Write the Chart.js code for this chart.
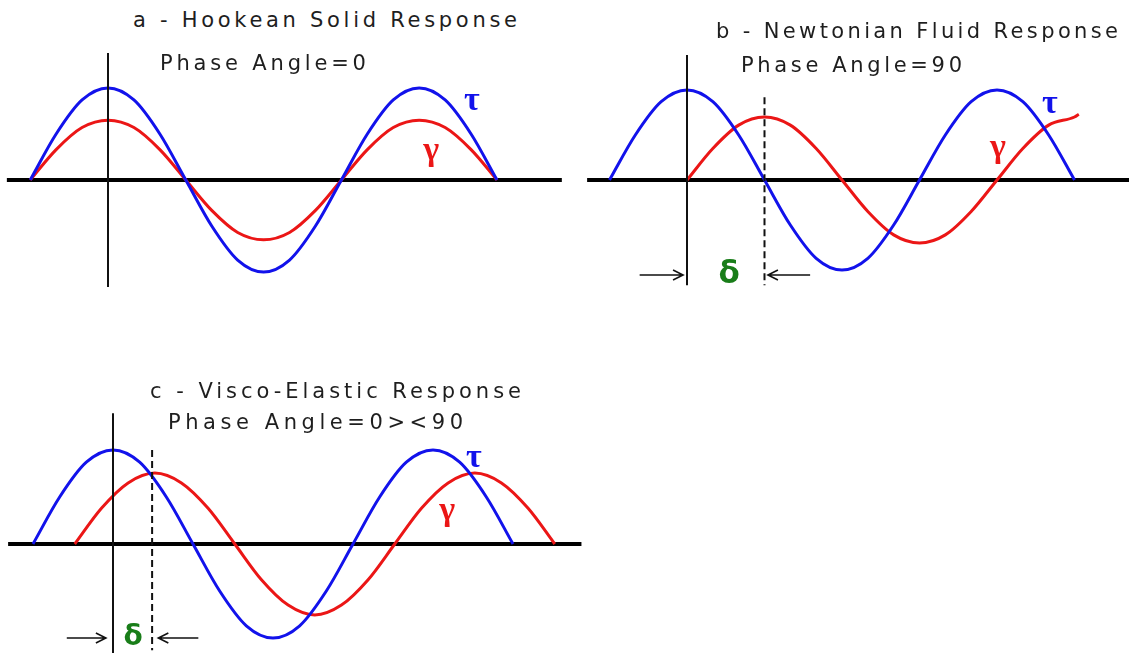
<!DOCTYPE html>
<html>
<head>
<meta charset="utf-8">
<title>Stress / strain phase response</title>
<script src="https://cdn.jsdelivr.net/npm/chart.js@4.4.1/dist/chart.umd.min.js"></script>
<style>
  html, body { margin: 0; padding: 0; background: #fff; }
  #stage { position: relative; width: 1129px; height: 657px; overflow: hidden; }
  #stage canvas { position: absolute; }
  .cap {
    position: absolute;
    font-family: "DejaVu Sans", Verdana, sans-serif;
    font-size: 21px;
    line-height: 24px;
    color: #1e1e1e;
    white-space: nowrap;
  }
</style>
</head>
<body>
<div id="stage">
  <canvas id="panelA" width="570" height="280" style="left:0;top:40px"></canvas>
  <canvas id="panelB" width="549" height="280" style="left:580px;top:40px"></canvas>
  <canvas id="panelC" width="600" height="262" style="left:0;top:395px"></canvas>

  <div class="cap" data-w="384" style="left:133px;top:8px">a - Hookean Solid Response</div>
  <div class="cap" data-w="206" style="left:160px;top:51px">Phase Angle=0</div>
  <div class="cap" data-w="402" style="left:716px;top:19px">b - Newtonian Fluid Response</div>
  <div class="cap" data-w="221" style="left:741px;top:53px">Phase Angle=90</div>
  <div class="cap" data-w="371" style="left:150px;top:379px">c - Visco-Elastic Response</div>
  <div class="cap" data-w="295" style="left:168px;top:410px">Phase Angle=0&gt;&lt;90</div>
</div>

<script>
// ---- data (x = phase in degrees, 0 = the solid vertical line; y = amplitude, tau peak = 1) ----
const PHASE     = [-90, -60, -30, 0, 30, 60, 90, 120, 150, 180, 210, 240, 270, 300, 330, 360, 390, 420, 450];
const TAU       = [0, .5, .87, 1, .87, .5, 0, -.5, -.87, -1, -.87, -.5, 0, .5, .87, 1, .87, .5, 0];

// a: strain in phase with stress
const GAMMA_A   = [0, .33, .57, .65, .57, .33, 0, -.33, -.57, -.65, -.57, -.33, 0, .33, .57, .65, .57, .33, 0];

// b: strain lags 90 deg
const PHASE_GB  = [0, 30, 60, 90, 120, 150, 180, 210, 240, 270, 300, 330, 360, 390, 420, 450, 455];
const GAMMA_B   = [0, .35, .61, .7, .61, .35, 0, -.35, -.61, -.7, -.61, -.35, 0, .35, .61, .7, .73];

// c: strain lags somewhere between 0 and 90
const PHASE_GC  = [-43, -13, 17, 47, 77, 107, 137, 167, 197, 227, 257, 287, 317, 347, 377, 407, 437, 467, 497];
const GAMMA_C   = [0, .38, .65, .755, .65, .38, 0, -.38, -.65, -.755, -.65, -.38, 0, .38, .65, .755, .65, .38, 0];

const BLUE  = 'rgb(18,18,235)';
const RED   = 'rgb(235,22,22)';
const GREEN = 'rgb(25,125,25)';

// where each panel sits on the page (pixels) and how big one degree / one unit is
const FRAMES = {
  a: { left: 0,   top: 40,  width: 570, height: 280, originX: 108, originY: 180, pxPerDeg: 77.8 / 90, pxPerUnit: 92 },
  b: { left: 580, top: 40,  width: 549, height: 280, originX: 687, originY: 180, pxPerDeg: 77.5 / 90, pxPerUnit: 90 },
  c: { left: 0,   top: 395, width: 600, height: 262, originX: 113, originY: 544, pxPerDeg: 80 / 90,   pxPerUnit: 94 },
};

// fit caption letter spacing to the wide bitmap-font look
document.querySelectorAll('.cap').forEach(el => {
  const n = el.textContent.length;
  const natural = el.getBoundingClientRect().width;
  el.style.letterSpacing = ((+el.dataset.w - natural) / (n - 1)) + 'px';
});

const toPts = (xs, ys) => xs.map((x, i) => ({ x, y: ys[i] }));

function arrow(ctx, x0, x1, yy) {
  const dir = Math.sign(x1 - x0);
  ctx.beginPath();
  ctx.moveTo(x0, yy);
  ctx.lineTo(x1, yy);
  ctx.moveTo(x1 - dir * 10, yy - 5);
  ctx.lineTo(x1, yy);
  ctx.lineTo(x1 - dir * 10, yy + 5);
  ctx.stroke();
}

const decor = {
  id: 'decor',
  beforeDatasetsDraw(chart, args, o) {
    const { ctx, scales: { x, y } } = chart;
    ctx.save();
    ctx.strokeStyle = '#000';
    ctx.lineWidth = 4;
    ctx.beginPath();
    ctx.moveTo(x.getPixelForValue(o.baseline[0]), y.getPixelForValue(0));
    ctx.lineTo(x.getPixelForValue(o.baseline[1]), y.getPixelForValue(0));
    ctx.stroke();
    ctx.restore();
  },
  afterDatasetsDraw(chart, args, o) {
    const { ctx, scales: { x, y } } = chart;
    ctx.save();
    ctx.strokeStyle = '#111';
    ctx.lineWidth = 2;
    ctx.beginPath();
    ctx.moveTo(x.getPixelForValue(0), y.getPixelForValue(o.solid[0]));
    ctx.lineTo(x.getPixelForValue(0), y.getPixelForValue(o.solid[1]));
    ctx.stroke();

    if (o.dashed) {
      ctx.setLineDash([7, 4]);
      ctx.beginPath();
      ctx.moveTo(x.getPixelForValue(o.dashed.x), y.getPixelForValue(o.dashed.y[0]));
      ctx.lineTo(x.getPixelForValue(o.dashed.x), y.getPixelForValue(o.dashed.y[1]));
      ctx.stroke();
      ctx.setLineDash([]);
    }

    if (o.arrows) {
      ctx.lineWidth = 1.6;
      const yy = y.getPixelForValue(o.arrows.y);
      o.arrows.spans.forEach(s => arrow(ctx, x.getPixelForValue(s[0]), x.getPixelForValue(s[1]), yy));
    }

    ctx.textAlign = 'center';
    ctx.textBaseline = 'alphabetic';
    o.labels.forEach(l => {
      ctx.fillStyle = l.color;
      ctx.font = l.font;
      ctx.fillText(l.text, x.getPixelForValue(l.x), y.getPixelForValue(l.y));
    });
    ctx.restore();
  }
};

function makePanel(id, f, datasets, decoOpts) {
  return new Chart(document.getElementById(id), {
    type: 'line',
    data: { datasets },
    options: {
      responsive: false,
      animation: false,
      devicePixelRatio: 1,
      layout: { padding: 0 },
      elements: {
        point: { radius: 0 },
        line: { borderWidth: 3, cubicInterpolationMode: 'monotone', fill: false }
      },
      plugins: { legend: { display: false }, tooltip: { enabled: false }, decor: decoOpts },
      scales: {
        x: {
          type: 'linear', display: false,
          min: (f.left - f.originX) / f.pxPerDeg,
          max: (f.left + f.width - f.originX) / f.pxPerDeg
        },
        y: {
          type: 'linear', display: false,
          min: (f.originY - f.top - f.height) / f.pxPerUnit,
          max: (f.originY - f.top) / f.pxPerUnit
        }
      }
    },
    plugins: [decor]
  });
}

const greek = '700 34px "Liberation Serif", "DejaVu Serif", serif';

makePanel('panelA', FRAMES.a, [
  { label: 'τ', data: toPts(PHASE, TAU), borderColor: BLUE },
  { label: 'γ', data: toPts(PHASE, GAMMA_A), borderColor: RED },
], {
  baseline: [-117, 525],
  solid: [1.38, -1.163],
  labels: [
    { text: 'τ', x: 421, y: 0.76, color: BLUE, font: greek },
    { text: 'γ', x: 374, y: 0.22, color: RED, font: greek },
  ]
});

makePanel('panelB', FRAMES.b, [
  { label: 'τ', data: toPts(PHASE, TAU), borderColor: BLUE },
  { label: 'γ', data: toPts(PHASE_GB, GAMMA_B), borderColor: RED },
], {
  baseline: [-116, 514],
  solid: [1.39, -1.17],
  dashed: { x: 90, y: [0.92, -1.17] },
  arrows: { y: -1.056, spans: [[-55, -4.6], [143, 94]] },
  labels: [
    { text: 'τ', x: 421.5, y: 0.744, color: BLUE, font: greek },
    { text: 'γ', x: 361, y: 0.256, color: RED, font: greek },
    { text: 'δ', x: 49, y: -1.144, color: GREEN, font: '700 31px "DejaVu Sans", sans-serif' },
  ]
});

makePanel('panelC', FRAMES.c, [
  { label: 'τ', data: toPts(PHASE, TAU), borderColor: BLUE },
  { label: 'γ', data: toPts(PHASE_GC, GAMMA_C), borderColor: RED },
], {
  baseline: [-118, 527],
  solid: [1.39, -1.16],
  dashed: { x: 44, y: [1.0, -1.13] },
  arrows: { y: -1.0, spans: [[-52, -8], [96, 51]] },
  labels: [
    { text: 'τ', x: 406, y: 0.82, color: BLUE, font: greek },
    { text: 'γ', x: 376, y: 0.255, color: RED, font: greek },
    { text: 'δ', x: 22.5, y: -1.074, color: GREEN, font: '700 28px "DejaVu Sans", sans-serif' },
  ]
});
</script>
</body>
</html>
